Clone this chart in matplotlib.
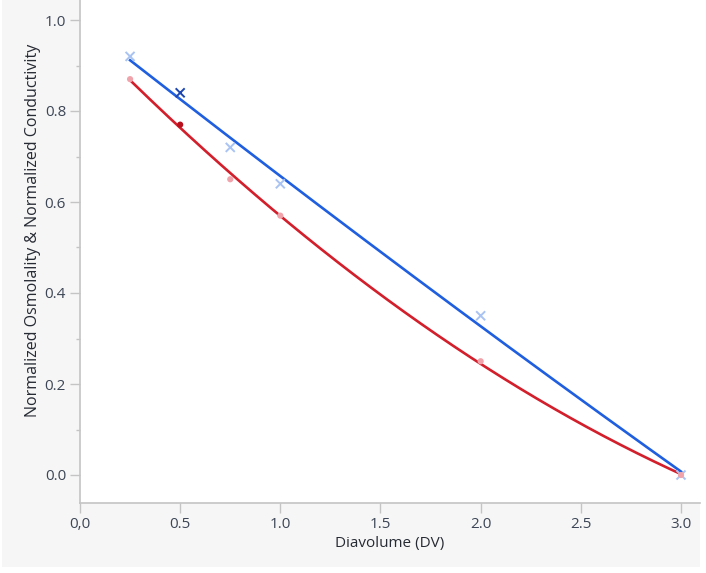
import matplotlib
matplotlib.use('Agg')
import matplotlib.pyplot as plt
from matplotlib.patches import Rectangle
from matplotlib.ticker import MultipleLocator, FixedLocator
import numpy as np

# ── DATA ─────────────────────────────────────────
diavolume = [0.25, 0.5, 0.75, 1.0, 2.0, 3.0]
osmolality = [0.92, 0.84, 0.72, 0.64, 0.35, 0.0]     # blue, x markers
conductivity = [0.87, 0.77, 0.65, 0.57, 0.25, 0.0]   # red, dots
x_ticks = [0.0, 0.5, 1.0, 1.5, 2.0, 2.5, 3.0]
x_tick_labels = ["0,0", "0.5", "1.0", "1.5", "2.0", "2.5", "3.0"]
y_ticks = [0.0, 0.2, 0.4, 0.6, 0.8, 1.0]

# ── STYLE ────────────────────────────────────────
BLUE = "#1f5fdf"
BLUE_LIGHT = "#a9c3f3"
BLUE_DARK = "#1d46b0"
RED = "#d21f2b"
RED_LIGHT = "#f0a3ab"
RED_DARK = "#b8101c"
PANEL_BG = "#f6f6f6"
SPINE = "#c4c4c4"
TICK_TXT = "#3d4656"
LABEL_TXT = "#262a33"
FONT = "Open Sans"

W, H = 706, 573
fig = plt.figure(figsize=(W / 100, H / 100), dpi=100, facecolor="white")

# gray panel behind the plot
fig.patches.append(Rectangle((2 / W, 6 / H), 698 / W, 567 / H,
                             transform=fig.transFigure, facecolor=PANEL_BG,
                             edgecolor="none", zorder=-10))

ax = fig.add_axes([80 / W, (H - 503) / H, 620 / W, 503 / H])
ax.set_facecolor("white")
ax.set_xlim(0, 3.0 + 19 / 200.3)
ax.set_ylim(-28 / 455, 1.0 + 20 / 455)

# fitted curves (quadratic fit of each series)
xs = np.linspace(diavolume[0], diavolume[-1], 200)
fit_b = np.polyfit(diavolume, osmolality, 2)
fit_r = np.polyfit(diavolume, conductivity, 2)
ax.plot(xs, np.polyval(fit_r, xs), color=RED, lw=1.9, zorder=3)
ax.plot(xs, np.polyval(fit_b, xs), color=BLUE, lw=1.9, zorder=4)

# points: light except the 0.5 DV point
b_cols = [BLUE_DARK if x == 0.5 else BLUE_LIGHT for x in diavolume]
r_cols = [RED_DARK if x == 0.5 else RED_LIGHT for x in diavolume]
ax.scatter(diavolume, osmolality, marker="x", s=42, c=b_cols, linewidths=1.4, zorder=5)
ax.scatter(diavolume, conductivity, marker="o", s=20, c=r_cols, edgecolors="none", zorder=5)

# axes styling
for side in ["top", "right"]:
    ax.spines[side].set_visible(False)
for side in ["left", "bottom"]:
    ax.spines[side].set_color(SPINE)
    ax.spines[side].set_linewidth(1.2)

ax.xaxis.set_major_locator(FixedLocator(x_ticks))
ax.set_xticklabels(x_tick_labels)
ax.yaxis.set_major_locator(FixedLocator(y_ticks))
ax.set_yticklabels([f"{v:.1f}" for v in y_ticks])
ax.yaxis.set_minor_locator(MultipleLocator(0.1))
ax.tick_params(axis="both", which="major", length=7, width=1, color=SPINE,
               labelsize=11, labelcolor=TICK_TXT)
ax.tick_params(axis="x", which="major", pad=3)
ax.tick_params(axis="y", which="major", pad=3)
ax.tick_params(axis="y", which="minor", length=3, width=1, color=SPINE)
for lab in ax.get_xticklabels() + ax.get_yticklabels():
    lab.set_family(FONT)

ax.set_xlabel("Diavolume (DV)", fontsize=11, color=LABEL_TXT, family=FONT)
ax.xaxis.set_label_coords(0.5, -(544 - 503) / 503)
ax.xaxis.label.set_va("center")
ax.set_ylabel("Normalized Osmolality & Normalized Conductivity", fontsize=11.5,
              color=LABEL_TXT, family=FONT)
ax.yaxis.set_label_coords(-(80 - 33) / 620, (503 - 230) / 503)
ax.yaxis.label.set_va("center")

plt.savefig("out.png", dpi=100, facecolor="white")
plt.close()
